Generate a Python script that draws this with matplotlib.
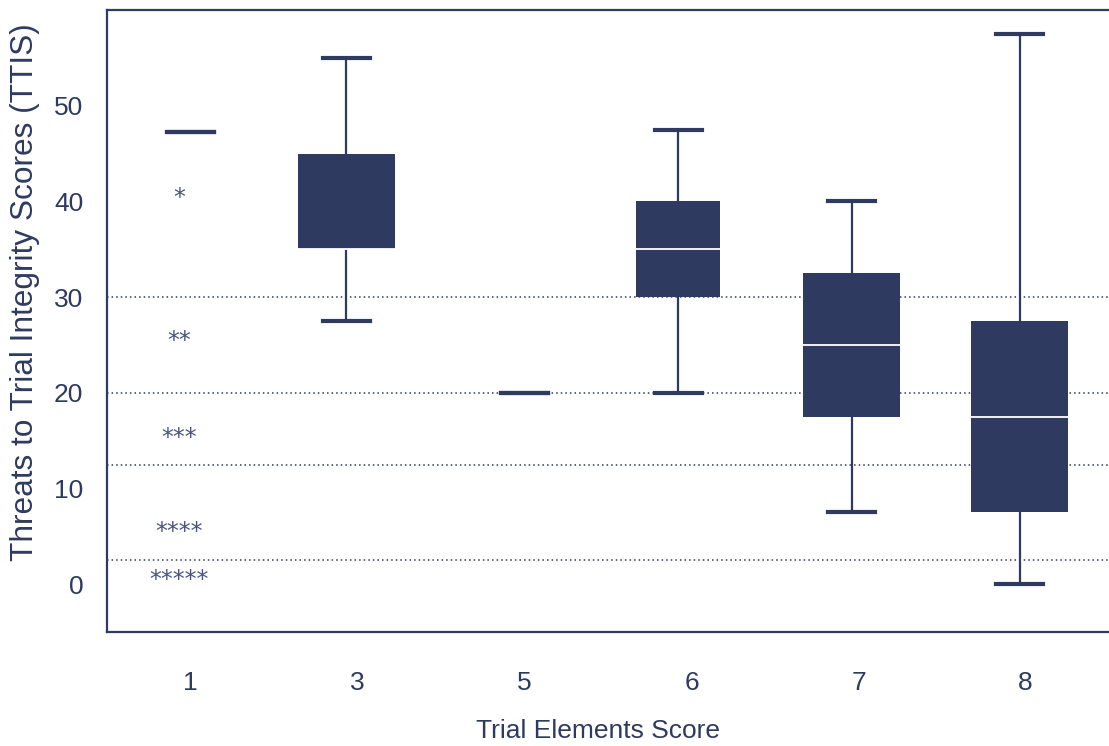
import matplotlib
matplotlib.use('Agg')
import matplotlib.pyplot as plt

NAVY = '#2e3a5f'

# categories on the x axis
elements = ['1', '3', '5', '6', '7', '8']

# box statistics
whislo = [47.3, 27.5, 20.0, 20.0, 7.5, 0.0]
q1 = [47.3, 35.0, 20.0, 30.0, 17.5, 7.5]
med = [47.3, 35.0, 20.0, 35.0, 25.0, 17.5]
q3 = [47.3, 45.0, 20.0, 40.0, 32.5, 27.5]
whishi = [47.3, 55.0, 20.0, 47.5, 40.0, 57.5]

# reference lines and the star labels
ref_lines = [30, 20, 12.5, 2.5]
star_labels = ['*', '**', '***', '****', '*****']
star_y = [40.4, 25.4, 15.3, 5.4, 0.4]

plt.rcParams['font.family'] = ['Liberation Sans', 'DejaVu Sans']

fig = plt.figure(figsize=(11.09, 7.46), dpi=100)
ax = fig.add_axes([0.0965, 0.1528, 0.9035, 0.8338])

stats = []
for i in range(len(elements)):
    stats.append({'whislo': whislo[i], 'q1': q1[i], 'med': med[i],
                  'q3': q3[i], 'whishi': whishi[i], 'fliers': []})

# the boxes sit a little left of their tick labels in the original
shift = [0, -0.066, 0, -0.08, -0.04, -0.035]
pos = [i + shift[i] for i in range(len(elements))]
widths = [0.58, 0.58, 0.58, 0.5, 0.58, 0.58]
parts = ax.bxp(stats, positions=pos, widths=widths,
               patch_artist=True, showfliers=False, capwidths=0.28,
               boxprops=dict(facecolor=NAVY, edgecolor=NAVY, linewidth=0),
               medianprops=dict(color='white', linewidth=1.3),
               whiskerprops=dict(color=NAVY, linewidth=1.6),
               capprops=dict(color=NAVY, linewidth=3),
               zorder=3)
for i, m in enumerate(parts['medians']):
    if q1[i] == q3[i]:
        m.set_visible(False)

for y in ref_lines:
    ax.axhline(y, color=NAVY, linestyle=(0, (1, 2)), linewidth=1.1, zorder=1)

for s, y in zip(star_labels, star_y):
    ax.text(-0.07, y, s, ha='center', va='center', color='#4a5680',
            fontsize=17, family='DejaVu Sans', zorder=4)

ax.set_xlim(-0.5, 5.5)
ax.set_ylim(-5, 60)
ax.set_xticks(range(len(elements)))
ax.set_xticklabels(elements)
ax.set_yticks([0, 10, 20, 30, 40, 50])

ax.tick_params(axis='both', length=0, labelsize=19, labelcolor=NAVY)
ax.tick_params(axis='x', pad=28)
ax.tick_params(axis='y', pad=17)

for side in ['left', 'bottom', 'top']:
    ax.spines[side].set_color(NAVY)
    ax.spines[side].set_linewidth(1.6)
ax.spines['right'].set_visible(False)

ax.set_xlabel('Trial Elements Score', fontsize=19, color=NAVY)
ax.xaxis.set_label_coords(0.49, -0.14)
ax.set_ylabel('Threats to Trial Integrity Scores (TTIS)', fontsize=22.8,
              color=NAVY)
ax.yaxis.set_label_coords(-0.067, 0.547)

fig.savefig('out.png', dpi=100)
